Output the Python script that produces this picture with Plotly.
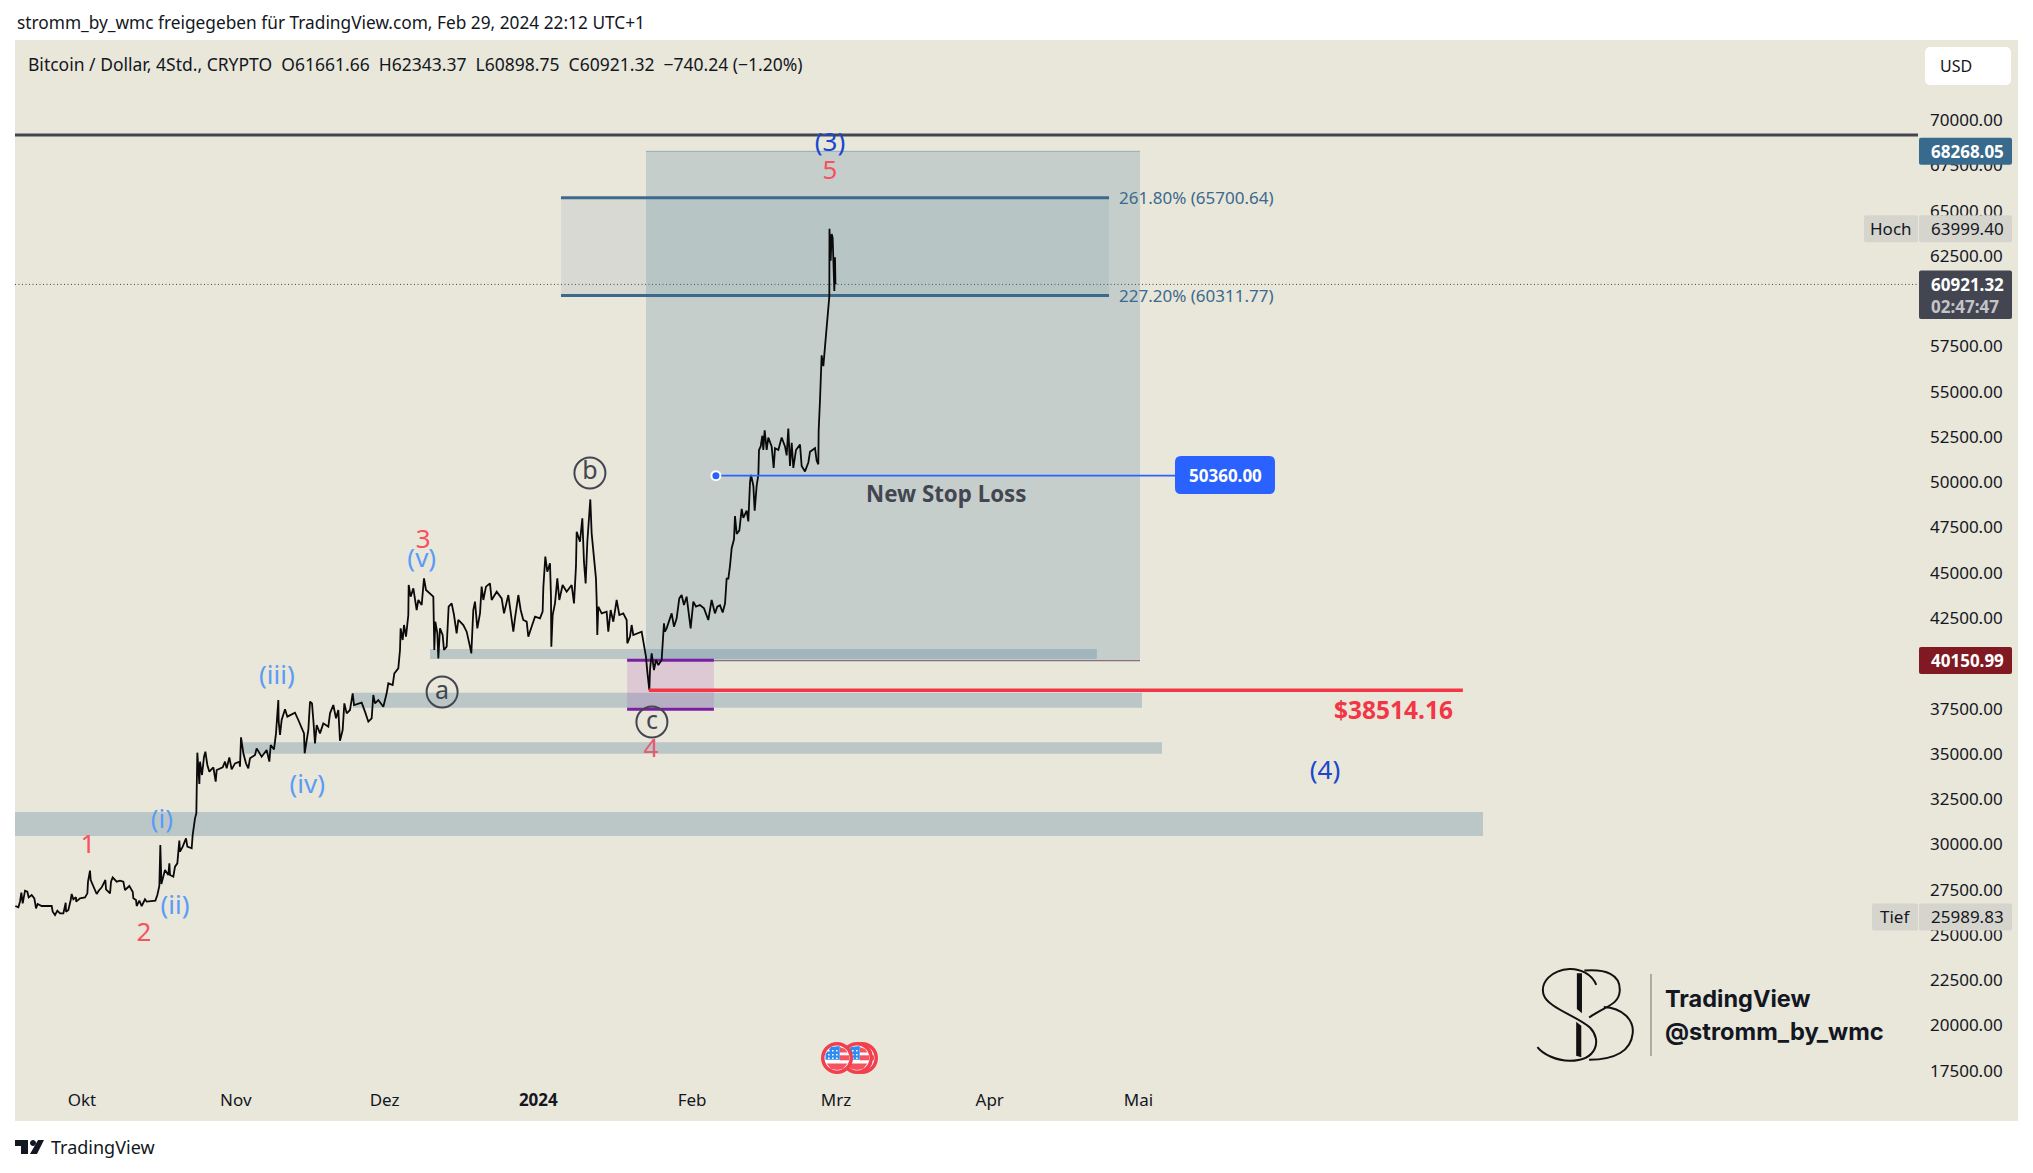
import pandas as pd
import plotly.graph_objects as go

BASE = pd.Timestamp("2023-09-15")

# days since BASE / BTCUSD price
price_days = [
2.56,3.17,3.50,3.77,4.04,4.51,4.98,5.25,5.85,6.39,6.73,7.06,7.87,9.89,10.09,10.56,11.03,11.57,12.24,12.71,12.78,13.25,13.72,13.92,14.25,14.79,14.82,15.6,16.6,17.08,17.21,17.61,17.75,18.29,18.96,19.36,19.97,20.71,20.84,21.65,21.85,22.18,22.99,23.66,24.33,24.67,25.54,26.22,26.35,26.89,27.02,27.56,28.03,28.7,29.04,30.79,31.19,31.59,31.79,31.93,32.0,32.73,33.41,33.61,33.74,34.41,34.75,35.22,35.42,35.62,35.76,36.3,36.97,37.24,38.11,38.31,38.78,39.05,39.12,39.25,39.66,39.79,40.19,40.6,40.87,41.27,41.67,42.48,42.95,43.15,44.36,44.83,45.17,45.7,46.17,46.85,47.72,47.85,48.06,48.53,49.06,49.53,49.87,50.88,51.21,52.22,53.23,53.77,54.04,54.71,55.11,55.58,55.65,55.92,56.25,56.93,57.4,58.94,59.61,60.29,60.76,60.89,61.16,61.63,61.97,62.37,62.64,62.97,63.31,63.98,64.65,65.66,66.0,66.67,67.21,67.68,68.01,68.55,68.89,69.36,70.03,70.57,70.84,72.38,73.05,73.73,74.4,74.73,75.07,75.74,76.75,77.42,77.76,78.63,78.97,79.77,80.11,
80.24,80.65,80.92,81.32,81.79,81.86,82.26,82.8,83.47,83.81,84.48,84.95,85.35,86.83,87.03,87.23,87.64,87.84,88.17,88.71,88.98,89.52,89.92,90.53,91.0,91.53,91.87,92.88,93.55,94.22,94.49,94.89,95.23,95.7,96.24,96.57,96.91,97.45,98.25,98.59,99.6,100.61,101.08,101.95,102.62,102.96,103.29,103.97,104.44,104.97,105.65,105.98,106.65,107.33,108.33,108.87,109.01,109.41,109.81,110.35,110.55,110.62,110.89,111.36,111.83,112.23,112.9,113.71,114.72,115.19,115.59,115.73,116.4,116.87,117.2,117.54,117.88,118.48,118.75,119.22,119.62,119.76,119.89,120.09,120.77,121.77,122.11,122.58,123.12,123.79,124.33,125.13,125.81,125.94,126.48,126.81,127.15,128.83,129.3,129.7,129.97,130.38,130.51,130.85,131.32,131.72,132.19,132.86,133.33,133.53,133.87,134.88,135.35,135.89,136.42,136.89,137.36,137.9,138.71,139.25,139.78,140.59,141.4,142.27,142.94,143.61,144.08,
144.63,145.17,145.64,145.97,146.31,146.64,146.98,147.45,147.65,147.99,148.53,149.0,149.33,150.0,150.34,150.68,150.88,151.35,151.62,152.02,152.36,152.49,152.83,153.16,153.36,153.63,154.04,154.37,155.04,155.45,155.72,156.39,157.06,157.73,158.07,158.4,158.74,159.08,159.41,159.95,160.76,161.09,161.76,162.44,162.77,163.78,164.12,164.45,164.52,164.79,164.99,165.12,165.46,165.8,166.13,166.47,166.67,166.7,166.94,167.14,167.34,167.68,167.81,167.9,168.0]
price_values = [
26596,26523,26836,27333,26744,27443,27388,27075,27204,27020,26468,26707,26596,26596,26283,26100,26339,26191,26191,26780,26283,26375,26928,27259,26965,27075,26836,27020,27075,27296,27940,28548,28032,27701,27259,27443,27627,28032,27517,27296,27940,28179,27940,27995,27940,27480,27701,27388,27020,26928,26596,26891,26596,26965,26836,26891,27204,27701,29965,28585,27811,28585,28308,28953,28308,28216,28769,28953,29413,30204,29597,29873,30333,29873,29781,30517,31437,31714,32910,35064,33333,34567,33830,34843,35119,34383,34014,34254,33462,34106,34254,34567,34198,34806,34143,34474,34567,34291,35910,35027,34474,34198,34751,34935,35303,34843,35211,34567,35487,35248,36131,37972,36775,36039,36868,37457,37052,37272,36868,36407,36131,35027,35579,36315,37880,37788,36868,35579,36591,36131,36683,36499,37236,37696,36960,37420,35726,36315,37788,37236,37420,38340,37696,37825,37328,36775,36960,38248,37788,37972,37604,38340,38893,38800,39444,39721,40733,
41929,41285,42113,41469,42666,44322,43678,44138,42942,43494,43218,44690,44046,43678,40733,42297,41653,40273,41929,41561,40733,40917,43126,43310,42666,41653,42391,42113,41745,40917,40549,42942,43402,41929,42758,44230,43494,44230,44414,43494,43954,43586,42758,43770,42391,41745,42481,43770,42942,42391,42297,41469,42021,42574,42481,42850,44193,45887,45058,45519,43678,40917,42666,43310,44690,43494,44322,43954,44322,43310,45335,47267,46715,48004,45611,44414,46715,49048,47175,45703,44690,43494,41561,43126,42758,42850,41745,42942,42297,43494,42666,42758,42389,41101,41469,42113,41561,41745,41101,40365,39536,38514,39628,40549,39628,40181,39905,40181,42205,41745,41929,42758,42021,42481,43586,43770,43218,43678,41929,43402,43126,43218,43034,42389,43494,42758,43126,
43200,42806,43298,44679,44679,45369,46355,46848,48130,47144,47341,48524,48031,48426,47834,50003,50398,49806,48426,49806,50398,51778,51975,52567,51778,52863,51778,52468,51975,50792,51877,51778,52468,51975,51482,52961,50891,52172,50792,51778,52074,50891,50595,51088,51680,51877,51186,50989,52863,54539,55821,57004,56412,57595,58286,59469,60258,63999,62230,63709,63511,60553,62427,61000,60921]

y_ticks = [70000,67500,65000,62500,57500,55000,52500,50000,47500,45000,42500,37500,35000,32500,30000,27500,25000,22500,20000,17500]
x_tick_dates = ["2023-10-01","2023-11-01","2023-12-01","2024-01-01","2024-02-01","2024-03-01","2024-04-01","2024-05-01"]
x_tick_text = ["Okt","Nov","Dez","<b>2024</b>","Feb","Mrz","Apr","Mai"]

top_line = 69172
last_price = 60921.32
fib_prices = [65700.64, 60311.77]
fib_labels = ["261.80% (65700.64)", "227.20% (60311.77)"]
fib_days = [112.57, 223.06]
long_top, long_bottom = 68268.05, 40150.99
long_days = [129.71, 229.3]
purple_top, purple_bottom = 40165, 37459
purple_days = [125.9, 143.4]
stop_price = 50360.0
stop_days = [143.8, 236.4]
red_price = 38514.16
red_days = [130.3, 294.4]
band_low = [30462, 35006, 37547, 40236]
band_high = [31788, 35636, 38376, 40789]
band_start = [2.49, 48.46, 70.64, 86.16]
band_end = [298.46, 233.74, 229.7, 220.6]

wave_text = ["(3)","5","1","2","(i)","(ii)","(iii)","(iv)","(v)","3","4","(4)"]
wave_days = [166.8,166.8,17.2,28.5,32.1,34.75,55.3,61.4,84.5,84.8,130.7,266.6]
wave_prices = [68660,67100,29890,25030,31286,26537,39230,33219,45698,46733,35192,33992]
DB, RD, LB, RD2 = "#1848CC", "#F7525F", "#5B9CF6", "#E35E70"
wave_colors = [DB,RD,RD,RD,LB,LB,LB,LB,LB,RD,RD2,DB]
circle_text = ["a","b","c"]
circle_days = [88.6,118.4,130.9]
circle_prices = [38370,50507,36710]
circle_ring_prices = [38414,50507,36758]

BG = "#E9E6DA"
FONT = "Noto Sans"
L, R, T, B_ = 15, 1918, 40, 1078
YMIN, YMAX = 17099, 74418


def day(d):
    return BASE + pd.to_timedelta(d, unit="D")


def sd(d):
    return day(d).strftime("%Y-%m-%d %H:%M")


def px(p):
    return (p - L) / (R - L)


def py(p):
    return (B_ - p) / (B_ - T)


def pt(x, y):
    return f"{px(x):.5f} {py(y):.5f}"


def rrect(x0, y0, x1, y1, r=3):
    return ("M" + pt(x0 + r, y0) + "L" + pt(x1 - r, y0) + "Q" + pt(x1, y0) + " " + pt(x1, y0 + r)
            + "L" + pt(x1, y1 - r) + "Q" + pt(x1, y1) + " " + pt(x1 - r, y1)
            + "L" + pt(x0 + r, y1) + "Q" + pt(x0, y1) + " " + pt(x0, y1 - r)
            + "L" + pt(x0, y0 + r) + "Q" + pt(x0, y0) + " " + pt(x0 + r, y0) + "Z")


def pshape(path, fill="rgba(0,0,0,0)", line=None, w=0, layer="above"):
    return dict(type="path", xref="paper", yref="paper", path=path, fillcolor=fill,
                line=dict(color=line or "rgba(0,0,0,0)", width=w), layer=layer)


def circle_path(cx, cy, r):
    k = 0.5523 * r
    return ("M" + pt(cx - r, cy) + "C" + pt(cx - r, cy - k) + " " + pt(cx - k, cy - r) + " " + pt(cx, cy - r)
            + "C" + pt(cx + k, cy - r) + " " + pt(cx + r, cy - k) + " " + pt(cx + r, cy)
            + "C" + pt(cx + r, cy + k) + " " + pt(cx + k, cy + r) + " " + pt(cx, cy + r)
            + "C" + pt(cx - k, cy + r) + " " + pt(cx - r, cy + k) + " " + pt(cx - r, cy) + "Z")


def poly(points):
    return "M" + "L".join(pt(x, y) for x, y in points) + "Z"


def z6(X, Y):
    return pt(1500 + X / 2.94, 940 + Y / 2.94)


def note(x, y, text, size=17, color="#131722", anchor="left", bold=False, family=FONT, yref="paper"):
    return dict(x=x, y=y, xref="paper", yref=yref, text=f"<b>{text}</b>" if bold else text, showarrow=False,
                xanchor=anchor, yanchor="middle", align="left",
                font=dict(size=size, color=color, family=family))


fig = go.Figure()

shapes = []
shapes.append(pshape("M" + pt(15, 40) + "L" + pt(2018, 40) + "L" + pt(2018, 1121) + "L" + pt(15, 1121) + "Z",
                     fill=BG, layer="below"))
for lo, hi, a, b in zip(band_low, band_high, band_start, band_end):
    shapes.append(dict(type="rect", x0=sd(a), x1=sd(b), y0=lo, y1=hi, xref="x", yref="y",
                       fillcolor="rgba(69,119,150,0.28)", line_width=0, layer="below"))
shapes.append(dict(type="rect", x0=sd(long_days[0]), x1=sd(long_days[1]), y0=long_bottom, y1=long_top, xref="x", yref="y",
                   fillcolor="rgba(53,110,143,0.2)", line_width=0, layer="below"))
shapes.append(dict(type="line", x0=sd(long_days[0]), x1=sd(long_days[1]), y0=long_top, y1=long_top, xref="x", yref="y",
                   line=dict(color="rgba(55,106,140,0.3)", width=1.2), layer="below"))
shapes.append(dict(type="rect", x0=sd(fib_days[0]), x1=sd(fib_days[1]), y0=fib_prices[1], y1=fib_prices[0], xref="x", yref="y",
                   fillcolor="rgba(115,145,170,0.15)", line_width=0, layer="below"))
shapes.append(dict(type="rect", x0=sd(purple_days[0]), x1=sd(purple_days[1]), y0=purple_bottom, y1=purple_top, xref="x", yref="y",
                   fillcolor="rgba(156,39,176,0.15)", line_width=0, layer="below"))
shapes.append(dict(type="line", x0=sd(purple_days[1]), x1=sd(long_days[1]), y0=long_bottom, y1=long_bottom, xref="x", yref="y",
                   line=dict(color="#86717B", width=1.3), layer="below"))
for p in (purple_top, purple_bottom):
    shapes.append(dict(type="line", x0=sd(purple_days[0]), x1=sd(purple_days[1]), y0=p, y1=p, xref="x", yref="y",
                       line=dict(color="#7B1FA2", width=3), layer="below"))
for p in fib_prices:
    shapes.append(dict(type="line", x0=sd(fib_days[0]), x1=sd(fib_days[1]), y0=p, y1=p, xref="x", yref="y",
                       line=dict(color="#3C6A8C", width=3), layer="below"))
shapes.append(dict(type="line", x0=0, x1=1, y0=top_line, y1=top_line, xref="paper", yref="y",
                   line=dict(color="#434651", width=3), layer="below"))
shapes.append(dict(type="line", x0=0, x1=1, y0=last_price, y1=last_price, xref="paper", yref="y",
                   line=dict(color="#434651", width=1, dash="1px,2.5px"), layer="below"))


def ylab(price, half=13.5):
    q = B_ - (price - YMIN) / (YMAX - YMIN) * (B_ - T)
    return q - half, q + half, q


y0, y1, yc = ylab(68268.05)
shapes.append(pshape(rrect(1919, y0, 2012, y1, 2), fill="#376A8C"))
y0, y1, yc = ylab(63999.40)
shapes.append(pshape(rrect(1864, y0, 1918, y1, 2), fill="#D6D5CD"))
shapes.append(pshape(rrect(1919, y0, 2012, y1, 2), fill="#D6D5CD"))
y0, y1, yc = ylab(25989.83)
shapes.append(pshape(rrect(1872, y0, 1918, y1, 2), fill="#D6D5CD"))
shapes.append(pshape(rrect(1919, y0, 2012, y1, 2), fill="#D6D5CD"))
y0, y1, yc = ylab(40150.99)
shapes.append(pshape(rrect(1919, y0, 2012, y1, 2), fill="#801922"))
y0, y1, yc = ylab(60921.32)
shapes.append(pshape(rrect(1919, y0 - 0.5, 2012, y0 + 48, 2), fill="#434651"))
shapes.append(pshape(rrect(1925, 47, 2011, 85, 6), fill="#FFFFFF"))
shapes.append(pshape(rrect(1175, 456, 1275, 494, 6), fill="#2962FF"))

# event flags
for cx in (862, 857, 837):
    cy = 1058
    shapes.append(pshape(circle_path(cx, cy, 16), fill="#F23F4D"))
    shapes.append(pshape(circle_path(cx, cy, 12.5), fill="#FFFFFF"))
    shapes.append(pshape(poly([(cx + 2.7, cy - 11), (cx + 8, cy - 9), (cx + 10.5, cy - 5.5), (cx + 2.7, cy - 5.5)]), fill="#F7525F"))
    shapes.append(pshape(poly([(cx + 2.7, cy - 2.7), (cx + 12, cy - 2.7), (cx + 12, cy + 2.3), (cx + 2.7, cy + 2.3)]), fill="#F7525F"))
    shapes.append(pshape(poly([(cx - 10.5, cy + 5.5), (cx + 10.5, cy + 5.5), (cx + 6, cy + 11), (cx, cy + 12), (cx - 6, cy + 11)]), fill="#F7525F"))
    shapes.append(pshape(poly([(cx - 6, cy - 11), (cx + 2.7, cy - 12), (cx + 2.7, cy + 1.7), (cx - 11.5, cy + 1.7), (cx - 11.5, cy - 4)]), fill="#2F8CF0"))
    dots = "".join(poly([(cx + a, cy + b), (cx + a + 1.6, cy + b), (cx + a + 1.6, cy + b + 1.6), (cx + a, cy + b + 1.6)])
                   for a in (-9, -5, -1) for b in (-8, -4, -0.5))
    shapes.append(pshape(dots, fill="#FFFFFF"))

# SB logo
black = "#111111"
s_path = ("M" + z6(283, 132) + "C" + z6(270, 100) + " " + z6(235, 84) + " " + z6(205, 85)
          + "C" + z6(150, 88) + " " + z6(118, 125) + " " + z6(128, 160)
          + "C" + z6(140, 200) + " " + z6(230, 225) + " " + z6(265, 258)
          + "C" + z6(300, 295) + " " + z6(285, 355) + " " + z6(205, 355)
          + "C" + z6(165, 355) + " " + z6(125, 335) + " " + z6(110, 315))
shapes.append(pshape(s_path, line=black, w=2))
b_path = ("M" + z6(248, 90) + "C" + z6(310, 85) + " " + z6(355, 100) + " " + z6(352, 150)
          + "C" + z6(350, 190) + " " + z6(310, 195) + " " + z6(262, 228)
          + "M" + z6(305, 197) + "C" + z6(360, 200) + " " + z6(395, 235) + " " + z6(390, 275)
          + "C" + z6(385, 325) + " " + z6(340, 352) + " " + z6(262, 352))
shapes.append(pshape(b_path, line=black, w=2))
shapes.append(pshape("M" + z6(226, 98) + "L" + z6(241, 98) + "L" + z6(241, 215) + "L" + z6(226, 203) + "Z", fill=black))
shapes.append(pshape("M" + z6(224, 240) + "L" + z6(239, 252) + "L" + z6(239, 345) + "L" + z6(224, 340) + "Z", fill=black))
shapes.append(dict(type="line", xref="paper", yref="paper", x0=px(1651), x1=px(1651), y0=py(974), y1=py(1056),
                   line=dict(color="#85847C", width=1.2), layer="above"))
# TradingView footer mark
tv = ("M" + pt(15, 1140) + "L" + pt(28, 1140) + "L" + pt(28, 1154) + "L" + pt(21, 1154) + "L" + pt(21, 1146) + "L" + pt(15, 1146) + "Z"
      + "M" + pt(38, 1140) + "L" + pt(44, 1140) + "L" + pt(37, 1154) + "L" + pt(30, 1154) + "Z")
shapes.append(pshape(tv, fill="#131722"))
shapes.append(pshape(circle_path(33, 1143, 3), fill="#131722"))

fig.add_trace(go.Scatter(x=[sd(d) for d in price_days], y=price_values, mode="lines",
                         line=dict(color="#0A0A0A", width=1.8), hoverinfo="skip", showlegend=False))
fig.add_trace(go.Scatter(x=[sd(d) for d in red_days], y=[red_price] * 2, mode="lines",
                         line=dict(color="#F23645", width=3.4), hoverinfo="skip", showlegend=False))
fig.add_trace(go.Scatter(x=[sd(d) for d in stop_days], y=[stop_price] * 2, mode="lines",
                         line=dict(color="#2962FF", width=1.8), hoverinfo="skip", showlegend=False))
fig.add_trace(go.Scatter(x=[sd(stop_days[0])], y=[stop_price], mode="markers",
                         marker=dict(color="#2962FF", size=9, line=dict(color="#FFFFFF", width=2)),
                         hoverinfo="skip", showlegend=False))
fig.add_trace(go.Scatter(x=[sd(d) for d in wave_days], y=wave_prices, mode="text", text=wave_text,
                         textposition="middle center", textfont=dict(size=26, color=wave_colors, family=FONT),
                         hoverinfo="skip", showlegend=False))
fig.add_trace(go.Scatter(x=[sd(d) for d in circle_days], y=circle_ring_prices, mode="markers",
                         marker=dict(symbol="circle-open", size=31, line=dict(color="#434651", width=2), color="#434651"),
                         hoverinfo="skip", showlegend=False))
fig.add_trace(go.Scatter(x=[sd(d) for d in circle_days], y=circle_prices, mode="text", text=circle_text,
                         textposition="middle center", textfont=dict(size=25, color="#434651", family=FONT),
                         hoverinfo="skip", showlegend=False))

ann = []
ann.append(note(px(15), py(23), "stromm_by_wmc freigegeben für TradingView.com, Feb 29, 2024 22:12 UTC+1", size=17.3))
ann.append(note(px(26), py(64), "Bitcoin / Dollar, 4Std., CRYPTO&#160;&#160;O61661.66&#160;&#160;H62343.37&#160;&#160;L60898.75&#160;&#160;C60921.32&#160;&#160;−740.24 (−1.20%)", size=17.5))
ann.append(note(px(1938), py(66), "USD", size=16))
for lab, p in zip(fib_labels, fib_prices):
    ann.append(note(px(1117), p, lab, size=17, color="#3C6A8C", yref="y"))
ann.append(note(px(1225), py(475), "50360.00", size=17, color="#FFFFFF", anchor="center", bold=True))
ann.append(note(px(946), 49400, "New Stop Loss", size=22.3, color="#434651", anchor="center", bold=True, yref="y"))
ann.append(note(px(1393), 37475, "$38514.16", size=24.5, color="#F23645", anchor="center", bold=True, yref="y"))
ann.append(note(px(1929), long_top, "68268.05", color="#FFFFFF", bold=True, yref="y"))
ann.append(note(px(1929), long_bottom, "40150.99", color="#FFFFFF", bold=True, yref="y"))
ann.append(note(px(1929), last_price, "60921.32", color="#FFFFFF", bold=True, yref="y"))
ann.append(note(px(1929), py(306), "02:47:47", color="#C4C4C8", bold=True))
ann.append(note(px(1929), 63999.40, "63999.40", yref="y"))
ann.append(note(px(1929), 25989.83, "25989.83", yref="y"))
ann.append(note(px(1891), 63999.40, "Hoch", anchor="center", yref="y"))
ann.append(note(px(1895), 25989.83, "Tief", anchor="center", yref="y"))
ann.append(note(px(1663), py(998), "TradingView", size=23.5, bold=True, family="Inter"))
ann.append(note(px(1663), py(1031), "@stromm_by_wmc", size=23.7, bold=True, family="Inter"))
ann.append(note(px(49), py(1147), "TradingView", size=18))

fig.update_layout(
    width=2033, height=1173, autosize=False,
    margin=dict(l=L, r=2033 - R, t=T, b=1173 - B_, pad=0),
    paper_bgcolor="#FFFFFF", plot_bgcolor="rgba(0,0,0,0)",
    showlegend=False, shapes=shapes, annotations=ann,
    font=dict(family=FONT, size=17, color="#131722"),
    xaxis=dict(type="date", range=[sd(2.49), sd(386.16)], showgrid=False, zeroline=False, showline=False,
               tickmode="array", tickvals=x_tick_dates, ticktext=x_tick_text, ticks="", ticklabelstandoff=10,
               tickfont=dict(size=17, color="#131722", family=FONT)),
    yaxis=dict(range=[YMIN, YMAX], side="right", showgrid=False, zeroline=False, showline=False,
               tickmode="array", tickvals=y_ticks, ticktext=[f"{v:.2f}" for v in y_ticks], ticks="",
               ticklabelstandoff=11, tickfont=dict(size=17, color="#131722", family=FONT)),
)

fig.write_html("out.html", config={"displayModeBar": False},
               post_script="document.body.style.margin='0';document.documentElement.style.overflow='hidden';")
